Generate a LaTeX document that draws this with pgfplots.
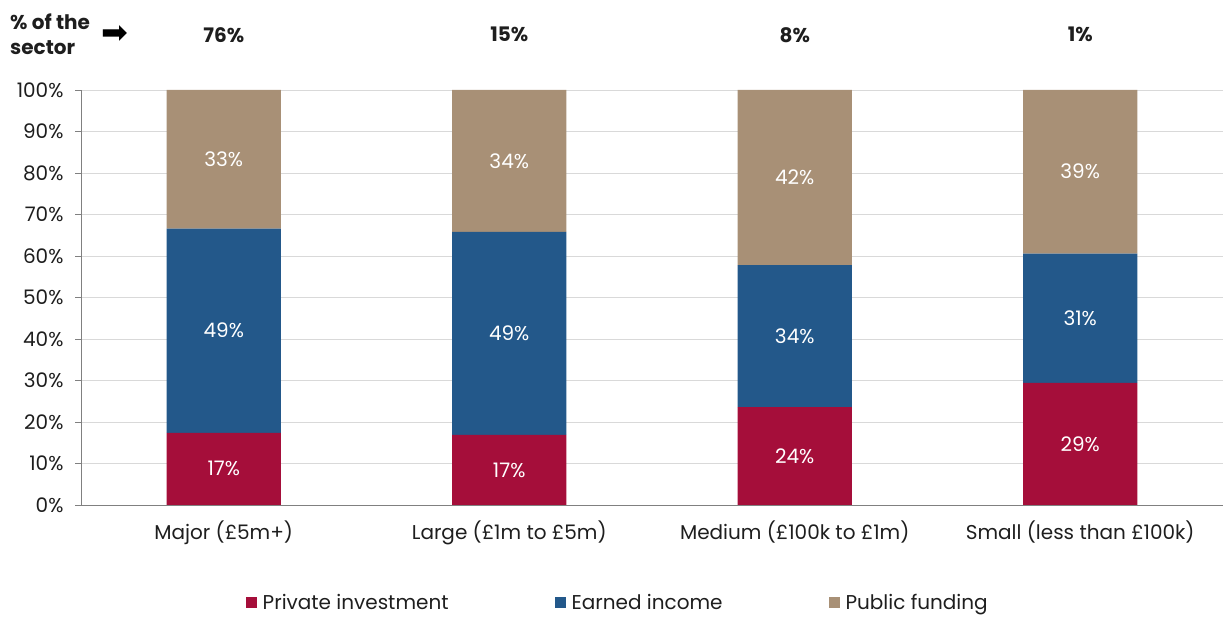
\documentclass[border=0pt]{standalone}
\usepackage{pgfplots}
\usepackage{pgfplotstable}
\pgfplotsset{compat=1.18}
\usepackage{fontspec}
\setmainfont{Poppins}
\newfontfamily\symfont{DejaVu Sans}

\definecolor{privcol}{RGB}{165,14,58}
\definecolor{earncol}{RGB}{35,88,138}
\definecolor{pubcol}{RGB}{168,144,118}
\definecolor{gridcol}{RGB}{217,217,217}
\definecolor{axiscol}{RGB}{128,128,128}
\definecolor{txt}{RGB}{30,30,30}

% Share of income by source, per organisation size (percent)
\pgfplotstableread{
x private earned public
0 17.4 49.2 33.4
1 16.9 48.9 34.2
2 23.6 34.2 42.2
3 29.4 31.2 39.4
}\shares
% centre of each stacked segment, for the value labels
\pgfplotstablecreatecol[expr={\thisrow{private}/2}]{pmid}{\shares}
\pgfplotstablecreatecol[expr={\thisrow{private}+\thisrow{earned}/2}]{emid}{\shares}
\pgfplotstablecreatecol[expr={\thisrow{private}+\thisrow{earned}+\thisrow{public}/2}]{umid}{\shares}

\newcommand{\lblfont}{\fontsize{20}{24}\selectfont}

\pgfplotsset{
  frame/.style={
    at={(81pt,112pt)}, anchor=south west,
    scale only axis, width=1142pt, height=415pt,
    xmin=-0.5, xmax=3.5, ymin=0, ymax=100,
    clip=false,
    /pgf/number format/assume math mode=true,
  },
}

\begin{document}
\begin{tikzpicture}
\useasboundingbox (0pt,0pt) rectangle (1223pt,617pt);
\begin{axis}[
  frame,
  ybar stacked, bar width=0.4,
  axis x line=bottom, axis y line=left,
  axis line style={axiscol, -, line width=0.8pt},
  xtick=data,
  xticklabels={Major (£5m+), Large (£1m to £5m), Medium (£100k to £1m), Small (less than £100k)},
  x tick style={draw=none},
  xticklabel style={yshift=-6pt},
  ytick={0,10,...,100},
  yticklabel={\pgfmathprintnumber{\tick}\%},
  yticklabel style={xshift=-8pt},
  y tick style={axiscol, line width=0.8pt},
  tick align=outside, major tick length=6pt,
  ymajorgrids, grid style={gridcol, line width=0.8pt},
  ticklabel style={font=\lblfont, text=txt},
  legend columns=3,
  legend style={at={(0.47,-0.236)}, anchor=center, draw=none, fill=none,
    font=\lblfont, text=txt,
    /tikz/every even column/.append style={column sep=104pt}},
  legend image code/.code={\fill[#1] (0pt,-5.5pt) rectangle (11pt,5.5pt);
    \path (15pt,0pt);},
]
\addplot[fill=privcol, draw=none] table[x=x, y=private] {\shares};
\addplot[fill=earncol, draw=none] table[x=x, y=earned] {\shares};
\addplot[fill=pubcol, draw=none] table[x=x, y=public] {\shares};
\legend{Private investment, Earned income, Public funding}

\node[font=\bfseries\lblfont, text=txt] at (axis cs:0,113.3) {76\%};
\node[font=\bfseries\lblfont, text=txt] at (axis cs:1,113.3) {15\%};
\node[font=\bfseries\lblfont, text=txt] at (axis cs:2,113.3) {8\%};
\node[font=\bfseries\lblfont, text=txt] at (axis cs:3,113.3) {1\%};
\end{axis}

% value labels, centred in each segment
\begin{axis}[
  frame, hide axis,
  point meta=explicit,
  nodes near coords={\pgfmathprintnumber[fixed,precision=0]{\pgfplotspointmeta}\%},
  every node near coord/.append style={anchor=center, text=white, font=\lblfont},
]
\addplot[draw=none, mark=none] table[x=x, y=pmid, meta=private] {\shares};
\addplot[draw=none, mark=none] table[x=x, y=emid, meta=earned] {\shares};
\addplot[draw=none, mark=none] table[x=x, y=umid, meta=public] {\shares};
\end{axis}

\node[anchor=west, align=left, font=\bfseries\fontsize{20}{25}\selectfont, text=txt, inner sep=0pt]
  at (10pt,583pt) {\% of the\\sector};
\node[text=black, inner sep=0pt] at (115pt,582pt) {\symfont\fontsize{32}{32}\selectfont ➡};
\end{tikzpicture}
\end{document}
